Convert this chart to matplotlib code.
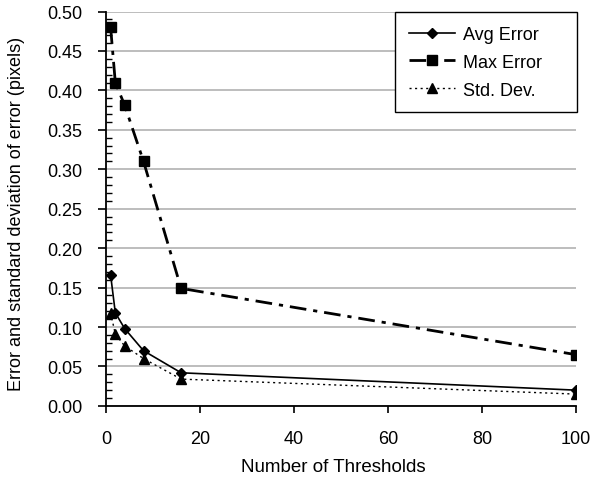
import matplotlib.pyplot as plt
from matplotlib.ticker import MultipleLocator

plt.rcParams['font.family'] = ['Liberation Sans', 'DejaVu Sans']

thresholds = [1, 2, 4, 8, 16, 100]
avg_error = [0.166, 0.118, 0.098, 0.070, 0.042, 0.020]
max_error = [0.480, 0.410, 0.381, 0.310, 0.149, 0.065]
std_dev = [0.118, 0.091, 0.076, 0.060, 0.034, 0.015]

fig = plt.figure(figsize=(5.95, 4.81), dpi=100)
ax = fig.add_axes([0.178, 0.154, 0.79, 0.82])

ax.plot(thresholds, avg_error, color='black', lw=1.2, marker='D', ms=5,
        label='Avg Error')
ax.plot(thresholds, max_error, color='black', lw=2.0, marker='s', ms=7,
        linestyle=(0, (6, 2.5, 1.5, 2.5)), label='Max Error')
ax.plot(thresholds, std_dev, color='black', lw=1.0, marker='^', ms=7,
        linestyle=(0, (1.5, 2.5)), label='Std. Dev.')

ax.set_xlim(0, 100)
ax.set_ylim(0, 0.5)
ax.xaxis.set_major_locator(MultipleLocator(20))
ax.set_yticks([i * 0.05 for i in range(11)])
ax.set_yticklabels([f'{i * 0.05:.2f}' for i in range(11)])
ax.yaxis.set_minor_locator(MultipleLocator(0.01))
ax.yaxis.grid(True, color='#b8b8b8', lw=1.3)
ax.set_axisbelow(True)
ax.tick_params(axis='x', labelsize=13, direction='out', length=5, width=1.2, pad=12)
ax.tick_params(axis='y', which='major', labelsize=13, direction='out', length=6,
               width=1.2, pad=11)
ax.tick_params(axis='y', which='minor', direction='in', length=4, width=1)
for s in ['top', 'right']:
    ax.spines[s].set_visible(False)
for s in ['left', 'bottom']:
    ax.spines[s].set_linewidth(1.3)

ax.set_xlabel('Number of Thresholds', fontsize=13.5)
ax.set_ylabel('Error and standard deviation of error (pixels)', fontsize=13)
ax.xaxis.set_label_coords(0.483, -0.132)
ax.yaxis.set_label_coords(-0.172, 0.49)

leg = ax.legend(loc='upper right', fontsize=13, frameon=True, fancybox=False,
                edgecolor='black', framealpha=1, borderpad=0.75, handlelength=2.6,
                handletextpad=0.4, labelspacing=0.6, borderaxespad=0,
                mode='expand', bbox_to_anchor=(0.615, 0.5, 0.387, 0.498))
leg.get_frame().set_linewidth(1.0)

fig.savefig('out.png', dpi=100)
